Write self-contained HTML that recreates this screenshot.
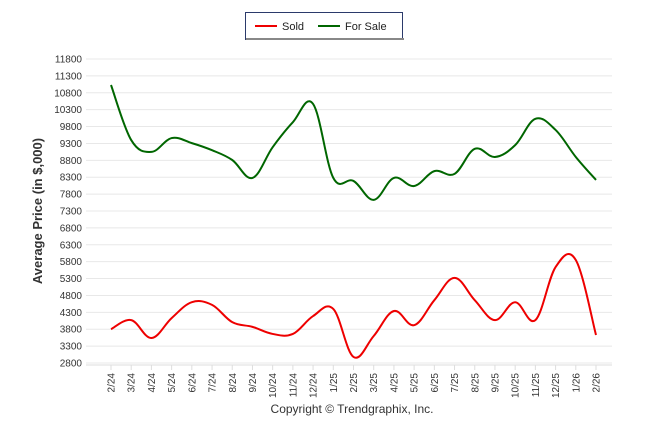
<!DOCTYPE html>
<html><head><meta charset="utf-8"><style>
body{margin:0;background:#fff;}
svg text{font-family:"Liberation Sans",Arial,sans-serif;}
</style></head><body>
<svg id="c" width="646" height="434" viewBox="0 0 646 434">
<g>
<rect x="245.5" y="12.5" width="157" height="27" fill="#fff" stroke="#2b3a6b" stroke-width="1"/>
<rect x="246" y="38" width="158" height="2" fill="#888"/>
<line x1="255" y1="26" x2="277" y2="26" stroke="#e00" stroke-width="2"/>
<text x="282" y="30" font-size="11" fill="#222">Sold</text>
<line x1="318" y1="26" x2="340" y2="26" stroke="#060" stroke-width="2"/>
<text x="345" y="30" font-size="11" fill="#222">For Sale</text>
</g>
<g id="grid"></g>
<g id="yt"></g>
<g id="xt"></g>
<text transform="translate(42,211) rotate(-90)" text-anchor="middle" font-size="13" font-weight="bold" fill="#333">Average Price (in $,000)</text>
<text x="352" y="413" text-anchor="middle" font-size="12" fill="#333">Copyright © Trendgraphix, Inc.</text>
<path id="fs" fill="none" stroke="#006600" stroke-width="2"/>
<path id="sd" fill="none" stroke="#ee0000" stroke-width="2"/>
</svg>
<script>
const categories=["2/24","3/24","4/24","5/24","6/24","7/24","8/24","9/24","10/24","11/24","12/24","1/25","2/25","3/25","4/25","5/25","6/25","7/25","8/25","9/25","10/25","11/25","12/25","1/26","2/26"];
const soldValues=[3800,4070,3540,4130,4600,4520,4010,3870,3660,3660,4190,4400,2980,3600,4340,3920,4660,5320,4660,4070,4600,4070,5640,5850,3630];
const forSaleValues=[11030,9400,9050,9460,9310,9100,8810,8280,9190,9930,10470,8280,8190,7630,8280,8040,8480,8400,9140,8900,9250,10030,9700,8900,8220];
const yTicks=[2800,3300,3800,4300,4800,5300,5800,6300,6800,7300,7800,8300,8800,9300,9800,10300,10800,11300,11800];
const yMin=2800,yMax=11800,plotTop=59,plotBot=363,x0=111,x1=596;
const ns="http://www.w3.org/2000/svg";
const Y=v=>plotBot-(v-yMin)/(yMax-yMin)*(plotBot-plotTop);
const X=i=>x0+i*(x1-x0)/(categories.length-1);
const grid=document.getElementById('grid'),yt=document.getElementById('yt'),xt=document.getElementById('xt');
yTicks.forEach(v=>{
 const l=document.createElementNS(ns,'line');
 
 
 l.setAttribute('x1',86);l.setAttribute('x2',612);l.setAttribute('y1',Y(v));l.setAttribute('y2',Y(v));
 l.setAttribute('stroke','#e8e8e8');grid.appendChild(l);
 const t=document.createElementNS(ns,'text');
 
 
 t.setAttribute('x',82);t.setAttribute('y',Y(v)+3.5);t.setAttribute('text-anchor','end');
 t.setAttribute('font-size','10');t.setAttribute('fill','#333');t.textContent=v;yt.appendChild(t);
});
const ax=document.createElementNS(ns,'line');


ax.setAttribute('x1',86);ax.setAttribute('x2',612);ax.setAttribute('y1',365);ax.setAttribute('y2',365);ax.setAttribute('stroke','#ddd');grid.appendChild(ax);
categories.forEach((c,i)=>{
 const tk=document.createElementNS(ns,'line');
 
 
 tk.setAttribute('x1',X(i));tk.setAttribute('x2',X(i));tk.setAttribute('y1',365);tk.setAttribute('y2',370);tk.setAttribute('stroke','#ddd');xt.appendChild(tk);
 const t=document.createElementNS(ns,'text');
 
 
 t.setAttribute('transform',`translate(${X(i)+3.5},373) rotate(-90)`);t.setAttribute('text-anchor','end');
 t.setAttribute('font-size','10');t.setAttribute('fill','#333');t.textContent=c;xt.appendChild(t);
});
function path(vals){
 const p=vals.map((v,i)=>[X(i),Y(v)]);let d=`M${p[0][0]},${p[0][1]}`;
 for(let i=0;i<p.length-1;i++){
  const a=p[i-1]||p[i],b=p[i],c=p[i+1],e=p[i+2]||c,k=0.18;
  d+=` C${b[0]+(c[0]-a[0])*k},${b[1]+(c[1]-a[1])*k} ${c[0]-(e[0]-b[0])*k},${c[1]-(e[1]-b[1])*k} ${c[0]},${c[1]}`;
 }return d;
}
document.getElementById('fs').setAttribute('d',path(forSaleValues));
document.getElementById('sd').setAttribute('d',path(soldValues));
</script>
</body></html>
